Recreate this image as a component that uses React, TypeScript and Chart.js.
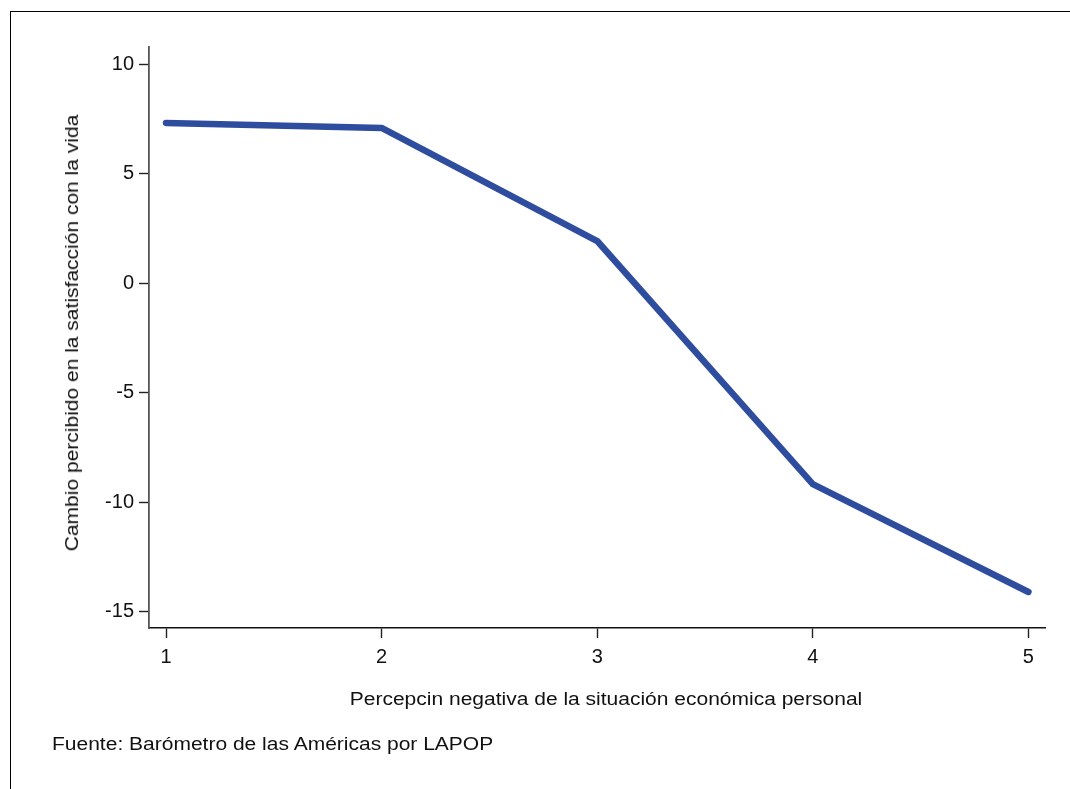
import React, { useEffect, useRef } from "react";
import { Chart, registerables } from "chart.js";

Chart.register(...registerables);

const categories = [1, 2, 3, 4, 5];
const values = [7.31, 7.08, 1.92, -9.18, -14.1];
const yTicks = [-15, -10, -5, 0, 5, 10];
const xTicks = [1, 2, 3, 4, 5];
const xTitle = "Percepcin negativa de la situación económica personal";
const yTitle = "Cambio percibido en la satisfacción con la vida";
const footer = "Fuente: Barómetro de las Américas por LAPOP";

const FONT = "'Liberation Sans', Arial, Helvetica, sans-serif";

export default function App() {
  const ref = useRef<HTMLCanvasElement | null>(null);

  useEffect(() => {
    if (!ref.current) return;
    const chart = new Chart(ref.current, {
      type: "scatter",
      data: {
        datasets: [
          {
            data: categories.map((c, i) => ({ x: c, y: values[i] })),
            showLine: true,
            borderColor: "#2f4d9e",
            borderWidth: 6.5,
            borderCapStyle: "round",
            borderJoinStyle: "round",
            pointRadius: 0,
            pointHoverRadius: 0,
            fill: false,
          },
        ],
      },
      options: {
        animation: false,
        responsive: false,
        maintainAspectRatio: false,
        layout: { padding: { top: 47, right: 25, left: 0, bottom: 0 } },
        plugins: { legend: { display: false }, tooltip: { enabled: false } },
        scales: {
          x: {
            type: "linear",
            min: 0.921,
            max: 5.077,
            afterFit: (s: any) => {
              s.height = 161;
            },
            afterBuildTicks: (s: any) => {
              s.ticks = xTicks.map((v) => ({ value: v }));
            },
            grid: {
              display: true,
              drawOnChartArea: false,
              drawTicks: true,
              tickLength: 10,
              tickColor: "#222",
              tickWidth: 1.4,
            },
            border: { display: true, color: "#111", width: 1.5 },
            ticks: {
              color: "#111",
              font: { family: FONT, size: 20 },
              padding: 7,
              maxRotation: 0,
              autoSkip: false,
            },
          },
          y: {
            type: "linear",
            min: -15.744,
            max: 10.776,
            afterFit: (s: any) => {
              s.width = 149;
            },
            afterBuildTicks: (s: any) => {
              s.ticks = yTicks.map((v) => ({ value: v }));
            },
            grid: {
              display: true,
              drawOnChartArea: false,
              drawTicks: true,
              tickLength: 10,
              tickColor: "#222",
              tickWidth: 1.4,
            },
            border: { display: true, color: "#555", width: 1.8 },
            ticks: {
              color: "#111",
              font: { family: FONT, size: 20 },
              padding: 5,
              autoSkip: false,
            },
          },
        },
      },
    });
    return () => chart.destroy();
  }, []);

  const textBase: React.CSSProperties = {
    position: "absolute",
    fontFamily: FONT,
    fontSize: "17.5px",
    lineHeight: "20px",
    color: "#111",
    whiteSpace: "nowrap",
  };

  return (
    <div
      style={{
        position: "absolute",
        left: 0,
        top: 0,
        width: 1070,
        height: 789,
        overflow: "hidden",
        background: "#fff",
      }}
    >
      <div
        style={{
          position: "absolute",
          left: 10,
          top: 11,
          width: 1100,
          height: 820,
          border: "1px solid #000",
          boxSizing: "border-box",
        }}
      />
      <canvas
        ref={ref}
        width={1070}
        height={789}
        style={{ position: "absolute", left: 0, top: 0, width: 1070, height: 789 }}
      />
      <div
        style={{
          ...textBase,
          left: 606,
          top: 689,
          transform: "translateX(-50%) scaleX(1.2)",
        }}
      >
        {xTitle}
      </div>
      <div
        style={{
          ...textBase,
          left: 52,
          top: 734,
          transformOrigin: "0 0",
          transform: "scaleX(1.2)",
        }}
      >
        {footer}
      </div>
      <div
        style={{
          ...textBase,
          left: 72,
          top: 333,
          transform: "translate(-50%, -50%) rotate(-90deg) scaleX(1.2)",
        }}
      >
        {yTitle}
      </div>
    </div>
  );
}
